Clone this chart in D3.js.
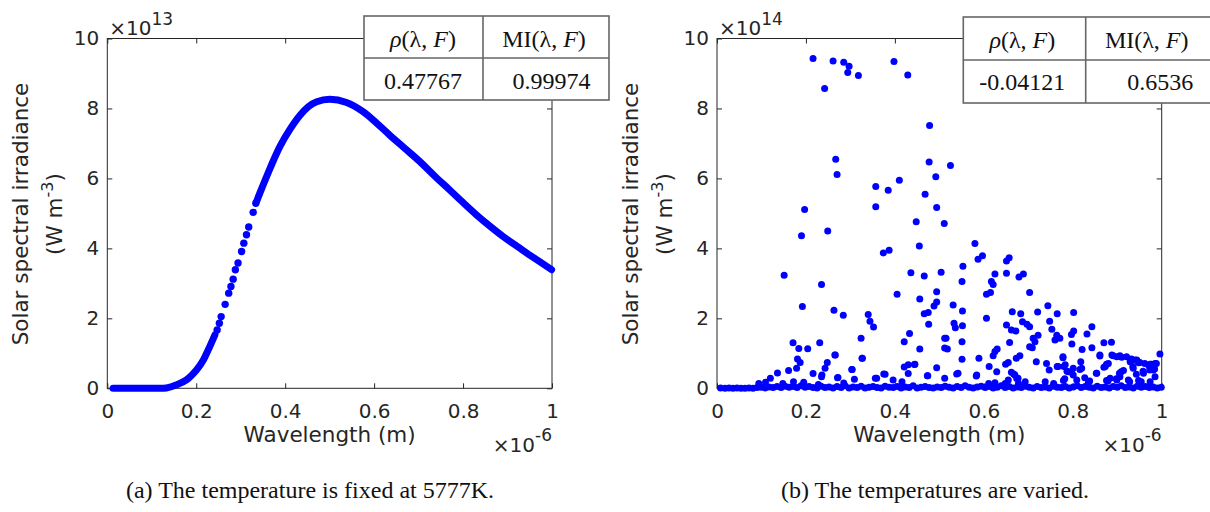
<!DOCTYPE html>
<html lang="en">
<head>
<meta charset="UTF-8" />
<title>Solar spectral irradiance</title>
<script src="https://d3js.org/d3.v7.min.js"></script>
<style>
  body { margin: 0; background: #ffffff; }
  svg { display: block; }
  .tick text { font-family: "DejaVu Sans", sans-serif; font-size: 20px; fill: #262626; }
  .tick line { stroke: #262626; stroke-width: 1; }
  .axlabel { font-family: "DejaVu Sans", sans-serif; font-size: 21.5px; fill: #262626; }
  .expo { font-family: "DejaVu Sans", sans-serif; font-size: 20px; fill: #262626; }
  .tbl { font-family: "Liberation Serif", "Times New Roman", serif; font-size: 24px; fill: #111; }
  .caption { font-family: "Liberation Serif", "Times New Roman", serif; font-size: 24px; fill: #111; }
</style>
</head>
<body>
<svg id="chart" width="1210" height="512"></svg>
<script>
// ---- data (x in 1e-6 m) ----
const xTicks = [0, 0.2, 0.4, 0.6, 0.8, 1];
const yTicks = [0, 2, 4, 6, 8, 10];

// (a) fixed temperature, y in 1e13
const curveLow = [[0.013,0],[0.05,0],[0.1,0],[0.133,0.01],[0.156,0.10],[0.178,0.24],
  [0.201,0.53],[0.216,0.81],[0.227,1.10],[0.242,1.53]];
const curveDots = [[0.247,1.67],[0.252,1.86],[0.256,2.05],[0.265,2.40],[0.273,2.72],
  [0.278,2.91],[0.283,3.12],[0.288,3.39],[0.294,3.58],[0.302,3.91],[0.307,4.15],
  [0.313,4.39],[0.318,4.61],[0.328,5.03],[0.334,5.29]];
const curveHigh = [[0.336,5.35],[0.343,5.58],[0.366,6.29],[0.388,6.91],[0.411,7.41],
  [0.433,7.80],[0.452,8.05],[0.471,8.19],[0.500,8.26],[0.538,8.17],[0.575,7.91],
  [0.605,7.59],[0.635,7.24],[0.669,6.86],[0.703,6.48],[0.736,6.07],[0.770,5.67],
  [0.800,5.31],[0.830,4.96],[0.860,4.64],[0.890,4.34],[0.920,4.07],[0.950,3.81],[0.999,3.39]];

// (b) varied temperatures, y in 1e14
const scatterPts = [
  [0.216,9.43],[0.261,9.36],[0.285,9.32],[0.297,9.21],[0.294,9.03],[0.318,8.94],[0.242,8.57],
  [0.398,9.34],[0.429,8.96],[0.478,7.51],[0.267,6.55],[0.270,6.11],[0.477,6.47],[0.492,6.05],
  [0.410,5.95],[0.357,5.77],[0.385,5.66],[0.468,5.55],[0.197,5.11],[0.357,5.19],[0.494,5.17],
  [0.448,4.76],[0.249,4.50],[0.190,4.36],[0.525,6.37],[0.511,4.71],[0.580,4.14],
  [0.151,3.23],[0.235,2.97],[0.192,2.34],[0.171,1.30],[0.184,1.14],[0.204,1.13],[0.231,1.30],
  [0.181,0.84],[0.187,0.74],[0.179,0.57],[0.161,0.51],[0.136,0.44],[0.120,0.29],[0.216,0.42],
  [0.248,0.74],[0.243,0.57],[0.235,0.33],
  [0.374,3.87],[0.387,3.95],[0.455,4.07],[0.436,3.30],[0.466,3.21],[0.504,3.32],[0.405,2.69],
  [0.456,2.55],[0.494,2.76],[0.494,2.47],[0.488,2.35],[0.475,2.17],[0.466,2.13],[0.476,1.83],
  [0.263,2.23],[0.284,2.09],[0.340,2.11],[0.344,1.92],[0.352,1.75],[0.324,1.43],[0.433,1.57],
  [0.421,1.33],[0.456,1.12],[0.265,0.95],[0.327,0.86],[0.304,0.54],[0.421,0.61],[0.430,0.67],
  [0.445,0.69],[0.430,0.42],[0.494,0.59],[0.378,0.40],[0.473,0.36],[0.512,1.43],[0.512,1.15],
  [0.587,3.69],[0.597,3.79],[0.651,3.64],[0.657,3.73],[0.553,3.49],[0.551,3.05],[0.625,3.27],
  [0.651,3.29],[0.679,3.18],[0.689,3.27],[0.617,3.05],[0.621,2.97],[0.606,2.69],[0.615,2.74],
  [0.703,2.74],[0.531,2.38],[0.552,2.21],[0.606,2.00],[0.664,2.19],[0.683,2.13],[0.721,2.18],
  [0.744,2.36],[0.765,2.13],[0.687,1.90],[0.697,1.83],[0.703,1.76],[0.748,1.92],[0.753,1.69],
  [0.533,1.86],[0.536,1.73],[0.552,1.79],[0.651,1.81],[0.662,1.67],[0.672,1.64],[0.515,1.43],
  [0.518,1.12],[0.551,1.33],[0.658,1.31],[0.711,1.43],[0.715,1.33],[0.703,1.19],[0.709,1.16],
  [0.722,1.52],[0.760,1.38],[0.764,1.52],[0.630,1.12],[0.625,1.05],[0.621,0.93],[0.673,0.86],
  [0.681,0.93],[0.589,0.86],[0.551,0.83],[0.649,0.69],[0.655,0.74],[0.718,0.76],[0.741,0.71],
  [0.747,0.52],[0.765,0.62],[0.612,0.62],[0.629,0.47],[0.662,0.46],[0.670,0.38],[0.677,0.29],
  [0.542,0.43],[0.512,0.29],[0.584,0.38],
  [0.802,2.17],[0.843,1.76],[0.802,1.64],[0.797,1.54],[0.832,1.55],[0.771,1.43],[0.798,1.27],
  [0.870,1.30],[0.887,1.32],[0.821,1.11],[0.843,1.16],[0.861,0.95],[0.778,0.87],[0.891,0.93],
  [0.906,0.93],[0.921,0.90],[0.932,0.84],[0.944,0.81],[0.951,0.74],[0.996,0.98],[0.988,0.71],
  [0.977,0.69],[0.971,0.65],[0.818,0.76],[0.876,0.69],[0.870,0.60],[0.767,0.62],[0.780,0.62],
  [0.787,0.49],[0.797,0.46],[0.816,0.54],[0.853,0.43],[0.935,0.62],[0.943,0.40],[0.958,0.49],
  [0.973,0.52],[0.984,0.55],[0.909,0.47],[0.906,0.33],[0.898,0.27],
  [0.782,0.27],[0.801,0.38],[0.827,0.30],[0.838,0.21],[0.879,0.21],[0.928,0.19],[0.954,0.19],
  [0.094,0.14],[0.109,0.17],[0.148,0.14],[0.172,0.19],[0.195,0.17],[0.236,0.38],[0.266,0.95],
  [0.272,0.31],[0.285,0.15],[0.303,0.54],[0.309,0.26],[0.326,0.86],[0.356,0.29],[0.375,0.41],
  [0.396,0.24],[0.416,0.19],[0.444,0.68],[0.474,0.36],[0.271,0.30],[0.359,0.29],[0.228,0.11],
  [0.539,0.41],[0.583,0.35],[0.611,0.14],[0.625,0.16],[0.648,0.14],[0.655,0.24],[0.678,0.14],
  [0.693,0.19],[0.738,0.19],[0.757,0.14],[0.779,0.22],[0.809,0.24],[0.835,0.16],[0.876,0.22],
  [0.884,0.29],[0.899,0.24],[0.925,0.24],[0.948,0.22],[0.974,0.19],[0.667,0.41],[0.674,0.28],
  [0.783,0.67],[0.778,0.90],[0.790,0.47],[0.801,0.57],[0.820,0.57],[0.854,0.43],[0.861,0.92],
  [0.873,0.62],[0.880,0.71],[0.888,0.95],[0.899,0.90],[0.910,0.89],[0.929,0.76],[0.940,0.81],
  [0.948,0.73],[0.962,0.71],[0.974,0.69],[0.985,0.71],[0.905,0.43],[0.914,0.51],[0.936,0.57],
  [0.959,0.43],[0.981,0.52],[0.985,0.33]
];
const scatterBase = [
  [0.008,0.01],[0.018,0],[0.027,0.01],[0.036,0],[0.045,0.01],[0.054,0],[0.063,0],[0.072,0.01],
  [0.081,0],[0.09,0.02],[0.099,0.03],[0.108,0.01],[0.117,0.04],[0.126,0.02],[0.135,0.05],
  [0.144,0.02],[0.153,0.06],[0.162,0.03],[0.171,0.05],[0.18,0.02],[0.189,0.07],[0.198,0.03],
  [0.207,0.05],[0.216,0.02],[0.225,0.01],[0.234,0.06],[0.243,0.02],[0.252,0.04],[0.261,0.01],
  [0.27,0.05],[0.279,0.02],[0.288,0.07],[0.297,0.01],[0.306,0.04],[0.315,0.02],[0.324,0.06],
  [0.333,0.01],[0.342,0.03],[0.351,0.05],[0.36,0.02],[0.369,0.01],[0.378,0.06],[0.387,0.03],
  [0.396,0.02],[0.405,0.05],[0.414,0.01],[0.423,0.04],[0.432,0.02],[0.441,0.07],[0.45,0.01],
  [0.459,0.03],[0.468,0.05],[0.477,0.02],[0.486,0.01],[0.495,0.04],[0.504,0.02],[0.513,0.06],
  [0.522,0.03],[0.531,0.01],[0.54,0.05],[0.549,0.02],[0.558,0.07],[0.567,0.03],[0.576,0.01],
  [0.585,0.04],[0.594,0.06],[0.603,0.02],[0.612,0.05],[0.621,0.01],[0.63,0.03],[0.639,0.07],
  [0.648,0.02],[0.657,0.05],[0.666,0.01],[0.675,0.04],[0.684,0.02],[0.693,0.06],[0.702,0.03],
  [0.711,0.01],[0.72,0.05],[0.729,0.02],[0.738,0.04],[0.747,0.01],[0.756,0.06],[0.765,0.03],
  [0.774,0.02],[0.783,0.05],[0.792,0.01],[0.801,0.04],[0.81,0.07],[0.819,0.02],[0.828,0.05],
  [0.837,0.03],[0.846,0.01],[0.855,0.06],[0.864,0.02],[0.873,0.04],[0.882,0.01],[0.891,0.05],
  [0.9,0.03],[0.909,0.07],[0.918,0.02],[0.927,0.04],[0.936,0.01],[0.945,0.06],[0.954,0.03],
  [0.963,0.05],[0.972,0.02],[0.981,0.04],[0.99,0.01],[0.999,0.03]
];

const tableA = { rho: "0.47767", mi: "0.99974" };
const tableB = { rho: "-0.04121", mi: "0.6536" };

const blue = "#0000ff";
const svg = d3.select("#chart");

function drawPanel(opt) {
  const g = svg.append("g");
  const x = d3.scaleLinear().domain([0, 1]).range([opt.x0, opt.x1]);
  const y = d3.scaleLinear().domain([0, 10]).range([388.3, 38.5]);

  // axes, MATLAB style: ticks inside, box on
  g.append("g").attr("transform", `translate(0,${y(0)})`)
    .call(d3.axisBottom(x).tickValues(xTicks).tickFormat(d3.format("~g"))
      .tickSizeInner(-5).tickSizeOuter(0).tickPadding(16))
    .call(a => a.select(".domain").remove());
  g.append("g").attr("transform", `translate(${x(0)},0)`)
    .call(d3.axisLeft(y).tickValues(yTicks).tickSizeInner(-5).tickSizeOuter(0).tickPadding(8))
    .call(a => a.select(".domain").remove());
  g.append("g").attr("transform", `translate(0,${y(10)})`)
    .call(d3.axisTop(x).tickValues(xTicks).tickFormat("").tickSizeInner(-5).tickSizeOuter(0))
    .call(a => a.select(".domain").remove());
  g.append("g").attr("transform", `translate(${x(1)},0)`)
    .call(d3.axisRight(y).tickValues(yTicks).tickFormat("").tickSizeInner(-5).tickSizeOuter(0))
    .call(a => a.select(".domain").remove());
  g.append("rect")
    .attr("x", x(0)).attr("y", y(10))
    .attr("width", x(1) - x(0)).attr("height", y(0) - y(10))
    .attr("fill", "none").attr("stroke", "#262626").attr("stroke-width", 1);

  // exponents
  g.append("text").attr("class", "expo").attr("x", x(0) + 2).attr("y", 35)
    .text("×10").append("tspan").attr("dy", -10).attr("font-size", 17).text(opt.yExp);
  const bx = g.append("text").attr("class", "expo").attr("x", x(1)).attr("y", 452)
    .attr("text-anchor", "end");
  bx.append("tspan").text("×10");
  bx.append("tspan").attr("dy", -11).attr("font-size", 17).text("-6");

  // axis labels
  const cx = (x(0) + x(1)) / 2;
  g.append("text").attr("class", "axlabel").attr("x", cx).attr("y", 442)
    .attr("text-anchor", "middle").text("Wavelength (m)");
  const yl = g.append("g").attr("transform", `translate(${x(0) - 87},214) rotate(-90)`);
  yl.append("text").attr("class", "axlabel").attr("text-anchor", "middle")
    .attr("dy", "0.36em").text("Solar spectral irradiance");
  const l2 = yl.append("text").attr("class", "axlabel").attr("text-anchor", "middle")
    .attr("y", 34).attr("dy", "0.36em");
  l2.append("tspan").text("(W m");
  l2.append("tspan").attr("dy", -9).attr("font-size", 16).text("-3");
  l2.append("tspan").attr("dy", 9).text(")");

  opt.draw(g, x, y);

  // statistics table
  const t = opt.table;
  const tg = g.append("g");
  tg.append("rect").attr("x", t.x).attr("y", t.y).attr("width", t.w).attr("height", t.h)
    .attr("fill", "#fff").attr("stroke", "#666").attr("stroke-width", 1.6);
  tg.append("line").attr("x1", t.x).attr("x2", t.x + t.w)
    .attr("y1", t.y + t.h / 2).attr("y2", t.y + t.h / 2)
    .attr("stroke", "#666").attr("stroke-width", 1.6);
  tg.append("line").attr("x1", t.x + t.col).attr("x2", t.x + t.col)
    .attr("y1", t.y).attr("y2", t.y + t.h)
    .attr("stroke", "#666").attr("stroke-width", 1.6);
  const h1 = tg.append("text").attr("class", "tbl").attr("x", t.x + 59).attr("y", t.y + 31)
    .attr("text-anchor", "middle");
  h1.append("tspan").attr("font-style", "italic").text("ρ");
  h1.append("tspan").text("(λ, ");
  h1.append("tspan").attr("font-style", "italic").text("F");
  h1.append("tspan").text(")");
  const h2 = tg.append("text").attr("class", "tbl").attr("x", t.x + t.col + 61).attr("y", t.y + 31)
    .attr("text-anchor", "middle");
  h2.append("tspan").text("MI(λ, ");
  h2.append("tspan").attr("font-style", "italic").text("F");
  h2.append("tspan").text(")");
  tg.append("text").attr("class", "tbl").attr("x", t.x + 59).attr("y", t.y + 73)
    .attr("text-anchor", "middle").text(opt.values.rho);
  tg.append("text").attr("class", "tbl").attr("x", t.x + t.col + 107.5).attr("y", t.y + 73)
    .attr("text-anchor", "end").text(opt.values.mi);

  g.append("text").attr("class", "caption").attr("x", opt.capX).attr("y", 498)
    .attr("text-anchor", "middle").text(opt.caption);
}

drawPanel({
  x0: 107.3, x1: 552, yExp: "13",
  table: { x: 364, y: 16, w: 245, h: 84, col: 119 },
  values: tableA, capX: 310,
  caption: "(a) The temperature is fixed at 5777K.",
  draw: (g, x, y) => {
    const line = d3.line().x(d => x(d[0])).y(d => y(d[1])).curve(d3.curveCatmullRom.alpha(0.5));
    [curveLow, curveHigh].forEach(seg => {
      g.append("path").attr("d", line(seg)).attr("fill", "none")
        .attr("stroke", blue).attr("stroke-width", 7).attr("stroke-linecap", "round");
    });
    g.append("g").selectAll("circle").data(curveDots).join("circle")
      .attr("cx", d => x(d[0])).attr("cy", d => y(d[1])).attr("r", 3.7).attr("fill", blue);
  }
});

drawPanel({
  x0: 717, x1: 1161.7, yExp: "14",
  table: { x: 963.3, y: 17, w: 262, h: 86, col: 122.4 },
  values: tableB, capX: 935,
  caption: "(b) The temperatures are varied.",
  draw: (g, x, y) => {
    g.append("g").selectAll("circle").data(scatterBase.concat(scatterPts)).join("circle")
      .attr("cx", d => x(d[0])).attr("cy", d => y(d[1])).attr("r", 3.5).attr("fill", blue);
  }
});
</script>
</body>
</html>
